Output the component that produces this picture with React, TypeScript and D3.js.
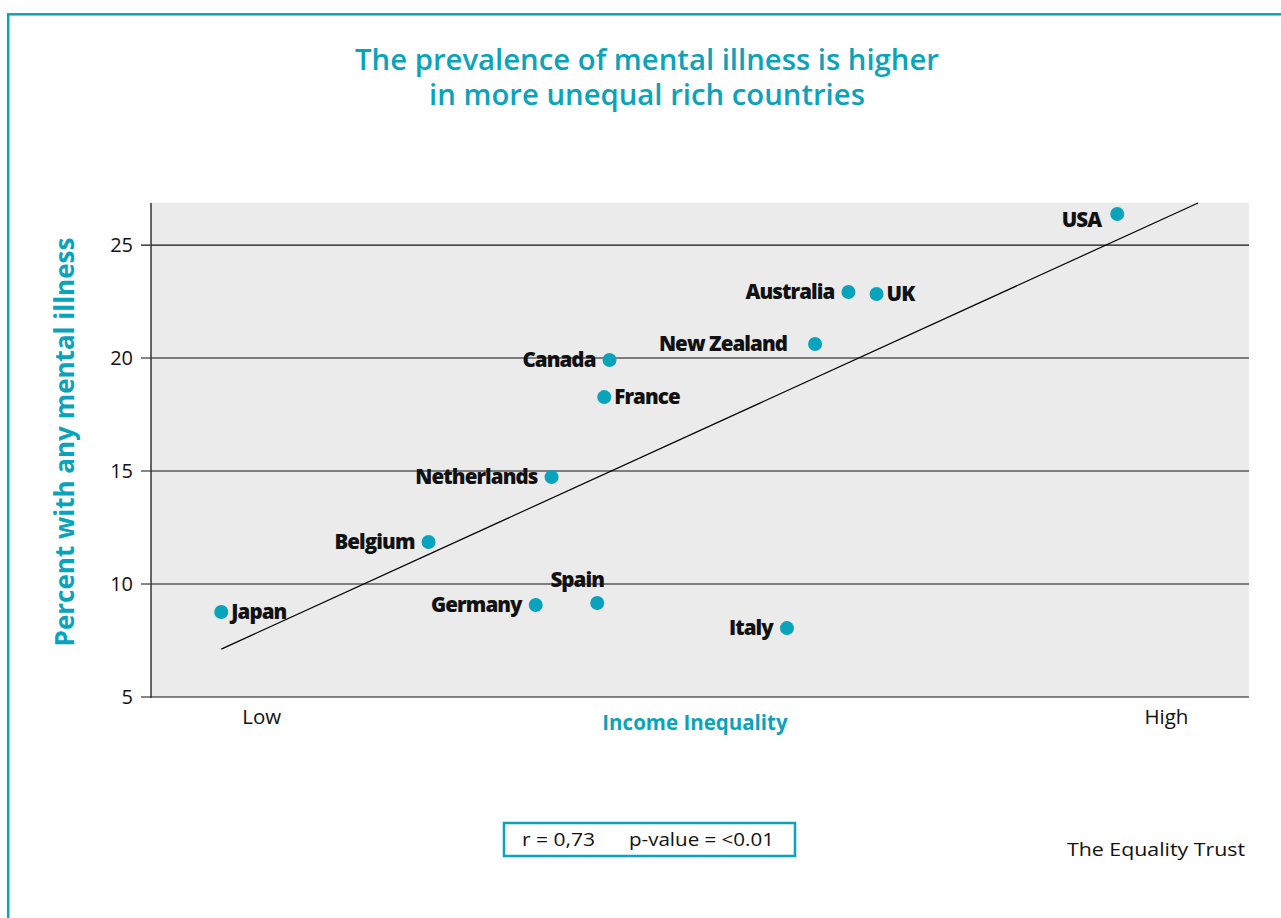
import React from "react";
import * as d3 from "d3";

// ---- data ----
const countries = ["Japan", "Belgium", "Netherlands", "Germany", "Spain", "France", "Canada", "Italy", "New Zealand", "Australia", "UK", "USA"];
const inequality = [3.4, 4.58, 5.28, 5.19, 5.54, 5.58, 5.61, 6.62, 6.78, 6.97, 7.13, 8.5];
const mentalIllness = [8.76, 11.86, 14.73, 9.07, 9.16, 18.27, 19.91, 8.05, 20.62, 22.92, 22.83, 26.37];
const labelSide = ["right", "left", "left", "left", "top", "right", "left", "left", "leftFar", "left", "right", "leftLow"];
const trendX = [3.4, 8.96];
const trendY = [7.12, 26.86];
const yTicks = [5, 10, 15, 20, 25];
const xTickLabels = ["Low", "High"];
const xTickValues = [3.63, 8.78];
const titleLines = ["The prevalence of mental illness is higher", "in more unequal rich countries"];
const yTitle = "Percent with any mental illness";
const xTitle = "Income Inequality";
const statsText = ["r = 0,73", "p-value = <0.01"];
const source = "The Equality Trust";

const TEAL = "#0aa3bc";
const FONT = "'Open Sans', 'Noto Sans', sans-serif";

export default function App() {
  const W = 1281, H = 918;
  const x = d3.scaleLinear().domain([3.0, 9.25]).range([151, 1249]);
  const y = d3.scaleLinear().domain([5, 26.86]).range([697, 203]);
  const line = d3.line<number>().x((d, i) => x(trendX[i])).y((d, i) => y(trendY[i]));

  const labelOffsets: Record<string, { dx: number; dy: number; anchor: string }> = {
    right: { dx: 10, dy: 7, anchor: "start" },
    left: { dx: -14, dy: 7, anchor: "end" },
    leftFar: { dx: -28, dy: 7, anchor: "end" },
    leftLow: { dx: -16, dy: 13, anchor: "end" },
    top: { dx: -20, dy: -16, anchor: "middle" },
  };

  return (
    <div>
      <style>{"body{margin:0}"}</style>
      <svg width={W} height={H} style={{ display: "block", fontFamily: FONT }}>
        <rect x={0} y={0} width={W} height={H} fill="#fff" />
        <rect x={8.2} y={14.3} width={1400} height={1000} fill="none" stroke={TEAL} strokeWidth={2.5} />

        <text x={647} y={70} textAnchor="middle" fill={TEAL} fontSize={29.3} fontWeight={600}>
          {titleLines.map((t, i) => (
            <tspan key={i} x={647} dy={i === 0 ? 0 : 35}>
              {t}
            </tspan>
          ))}
        </text>

        <rect x={x.range()[0]} y={y.range()[1]} width={x.range()[1] - x.range()[0]} height={y.range()[0] - y.range()[1]} fill="#ebebeb" />

        {yTicks.map((t) => (
          <g key={t}>
            <line x1={141} x2={x.range()[1]} y1={y(t)} y2={y(t)} stroke="#111" strokeWidth={1.2} />
            <text x={133} y={y(t) + 7} textAnchor="end" fontSize={20} fill="#111">
              {t}
            </text>
          </g>
        ))}
        <line x1={151} x2={151} y1={y.range()[1]} y2={y.range()[0] + 1} stroke="#333" strokeWidth={1.5} />

        <path d={line([0, 1]) || ""} fill="none" stroke="#000" strokeWidth={1.2} />

        {countries.map((c, i) => {
          const o = labelOffsets[labelSide[i]];
          return (
            <g key={c}>
              <circle cx={x(inequality[i])} cy={y(mentalIllness[i])} r={7} fill={TEAL} />
              <text
                x={x(inequality[i]) + o.dx}
                y={y(mentalIllness[i]) + o.dy}
                textAnchor={o.anchor}
                fontSize={20.5}
                fontWeight={800}
                letterSpacing={-0.9}
                fill="#111"
              >
                {c}
              </text>
            </g>
          );
        })}

        {xTickLabels.map((t, i) => (
          <text key={t} x={x(xTickValues[i])} y={724} textAnchor="middle" fontSize={20.5} fill="#111">
            {t}
          </text>
        ))}
        <text x={695} y={730} textAnchor="middle" fontSize={20.5} fontWeight={700} fill={TEAL}>
          {xTitle}
        </text>

        <text
          transform={`translate(74,442) rotate(-90)`}
          textAnchor="middle"
          fontSize={26}
          fontWeight={700}
          fill={TEAL}
        >
          {yTitle}
        </text>

        <rect x={504} y={823} width={291} height={33} fill="#fff" stroke={TEAL} strokeWidth={2.5} />
        <text x={522} y={846} fontSize={19} fill="#111" textLength={73} lengthAdjust="spacingAndGlyphs">
          {statsText[0]}
        </text>
        <text x={629} y={846} fontSize={19} fill="#111" textLength={145} lengthAdjust="spacingAndGlyphs">
          {statsText[1]}
        </text>

        <text x={1245} y={856} textAnchor="end" fontSize={19} fill="#111" textLength={178} lengthAdjust="spacingAndGlyphs">
          {source}
        </text>
      </svg>
    </div>
  );
}
